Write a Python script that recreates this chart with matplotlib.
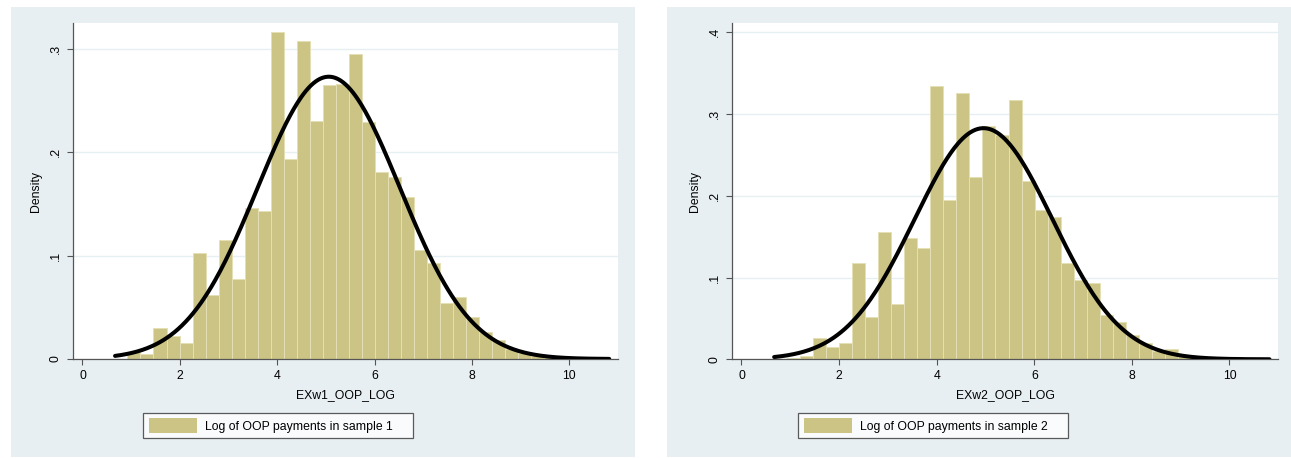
import numpy as np
import matplotlib
matplotlib.use('Agg')
import matplotlib.pyplot as plt
from matplotlib.patches import Rectangle

plt.rcParams['font.family'] = ['Liberation Sans', 'DejaVu Sans']

# histogram bins (same for both samples)
bin_start = 0.657
bin_width = 0.2675

# density of each bin, sample 1
dens1 = [0.0, 0.007, 0.005, 0.030, 0.0226, 0.0152, 0.103, 0.062, 0.115, 0.077,
         0.146, 0.1436, 0.316, 0.193, 0.308, 0.230, 0.265, 0.266, 0.295, 0.229,
         0.181, 0.1765, 0.1565, 0.1055, 0.0933, 0.0545, 0.0603, 0.0407, 0.0258, 0.0187,
         0.0097, 0.0058, 0.003, 0.002, 0.001, 0.001]
# density of each bin, sample 2
dens2 = [0.0, 0.002, 0.004, 0.026, 0.015, 0.020, 0.1175, 0.0522, 0.1554, 0.0677,
         0.148, 0.1359, 0.3346, 0.195, 0.3256, 0.2224, 0.2856, 0.2746, 0.3166, 0.2187,
         0.1828, 0.1746, 0.1175, 0.097, 0.093, 0.0543, 0.0457, 0.0298, 0.0196, 0.010,
         0.012, 0.005, 0.004, 0.002, 0.001, 0.001]

# normal overlay (mean, sd, data range)
mu1, sd1 = 5.06, 1.461
mu2, sd2 = 4.96, 1.411
xmin, xmax = 0.67, 10.82

xlabels = ['EXw1_OOP_LOG', 'EXw2_OOP_LOG']
leglabels = ['Log of OOP payments in sample 1', 'Log of OOP payments in sample 2']
yticks1 = [0, 0.1, 0.2, 0.3]
yticks2 = [0, 0.1, 0.2, 0.3, 0.4]
ytlab1 = ['0', '.1', '.2', '.3']
ytlab2 = ['0', '.1', '.2', '.3', '.4']

W, H = 1291, 458
fig = plt.figure(figsize=(W/100., H/100.), dpi=100)
fig.patch.set_facecolor('white')

bg = '#e8eff2'
barcol = '#cbc484'
fs = 8.8

for x0 in [11, 667]:
	fig.patches.append(Rectangle((x0/float(W), 1./H), 624./W, 450./H,
		transform=fig.transFigure, facecolor=bg, edgecolor='none', zorder=-5))

def panel(rect, dens, mu, sd, ymax, yt, ytl, xlab, leglab, legx):
	ax = fig.add_axes(rect)
	ax.set_facecolor('white')
	edges = bin_start + bin_width*np.arange(len(dens))
	ax.bar(edges, dens, width=bin_width, align='edge', color=barcol,
		edgecolor='#e4dfb4', linewidth=0.7, label=leglab, zorder=2)
	xs = np.linspace(xmin, xmax, 400)
	ys = np.exp(-0.5*((xs-mu)/sd)**2)/(sd*np.sqrt(2*np.pi))
	ax.plot(xs, ys, color='black', lw=2.9, solid_capstyle='round', zorder=3)
	ax.set_xlim(-0.2, 11.0)
	ax.set_ylim(0, ymax)
	ax.set_xticks([0, 2, 4, 6, 8, 10])
	ax.set_yticks(yt)
	ax.set_yticklabels(ytl, rotation=90, va='center')
	for s in ['top', 'right']:
		ax.spines[s].set_visible(False)
	for s in ['left', 'bottom']:
		ax.spines[s].set_color('#555555')
		ax.spines[s].set_linewidth(0.9)
	ax.tick_params(direction='out', length=4.3, width=0.8, color='#555555',
		labelsize=fs, pad=3.5)
	ax.yaxis.grid(True, color='#e6eff2', lw=1.0, zorder=0)
	ax.set_axisbelow(True)
	ax.set_xlabel(xlab, fontsize=fs, labelpad=5)
	ax.set_ylabel('Density', fontsize=fs, labelpad=6)
	leg = ax.legend(loc='center left', mode='expand',
		bbox_to_anchor=(legx/float(W), 1-439.5/H, 270./W, 28./H),
		bbox_transform=fig.transFigure,
		fontsize=fs, frameon=True, fancybox=False, handlelength=4.0, handleheight=1.4,
		handletextpad=0.6, borderpad=0.45, borderaxespad=0)
	leg.legend_handles[0].set_edgecolor('none')
	fr = leg.get_frame()
	fr.set_edgecolor('#333333')
	fr.set_linewidth(0.9)
	fr.set_facecolor('white')
	return ax

ax1 = panel([72.7/W, 1-359./H, (618-72.7)/W, 336./H], dens1, mu1, sd1, 0.325,
	yticks1, ytlab1, xlabels[0], leglabels[0], 143)
ax2 = panel([731.7/W, 1-359.3/H, (1278.3-731.7)/W, 336./H], dens2, mu2, sd2, 0.411,
	yticks2, ytlab2, xlabels[1], leglabels[1], 798)

plt.savefig('out.png', dpi=100)
